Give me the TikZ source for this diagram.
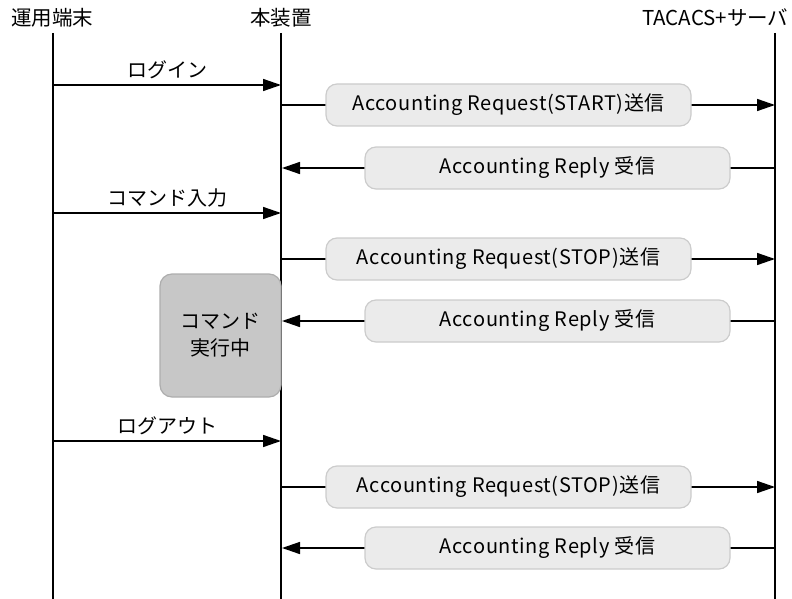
\documentclass[tikz,border=0pt]{standalone}
\usepackage{fontspec}
\setmainfont{Noto Sans CJK JP}
\usetikzlibrary{arrows.meta}
\tikzset{acctlife/.style={line width=1.5pt},
         acctmsg/.style={line width=1.5pt,-{Triangle[length=18pt,width=12pt]}},
         acctbox/.style={draw=black!20,fill=black!8,line width=1.2pt,rounded corners=11pt,
                         minimum width=365pt,minimum height=42pt,
                         font=\fontsize{20}{22}\selectfont\addfontfeature{LetterSpace=3}},
         acctcmd/.style={draw=black!32,fill=black!22,line width=1.2pt,rounded corners=12pt,
                         minimum width=121pt,minimum height=123pt,align=center,
                         font=\fontsize{20}{27}\selectfont},
         acctlab/.style={font=\fontsize{20}{22}\selectfont,above=2pt},
         accthd/.style={font=\fontsize{20.5}{24}\selectfont}}
\begin{document}
\begin{tikzpicture}[x=1pt,y=-1pt]
  \useasboundingbox (0,0) rectangle (792,599);
  % headers and lifelines
  \node[accthd,anchor=base] (hdTerm) at (52,26) {運用端末};
  \node[accthd,anchor=base] (hdDev) at (281,26) {本装置};
  \node[accthd,anchor=base east] (hdSrv) at (792,26) {TACACS+サーバ};
  \foreach \n/\x in {Term/53,Dev/281,Srv/775}
    {\coordinate (top\n) at (\x,33); \coordinate (bot\n) at (\x,599);
     \draw[acctlife] (top\n)--(bot\n);}
  % command box
  \node[acctcmd] (cmdRun) at (220.5,335.5) {コマンド\\実行中};
  % terminal to device
  \foreach \i/\y/\t in {1/85/ログイン,2/213/コマンド入力,3/441/ログアウト}
    {\coordinate (t\i) at (53,\y); \coordinate (d\i) at (281,\y);
     \draw[acctmsg] (t\i)--(d\i) node[acctlab,midway] {\t};}
  % requests
  \foreach \i/\y/\t in {1/105/START,2/259/STOP,3/487/STOP}
    {\coordinate (rqd\i) at (281,\y); \coordinate (rqs\i) at (775,\y);
     \draw[acctmsg] (rqd\i)--(rqs\i);
     \node[acctbox] (rq\i) at (508.5,\y) {Accounting Request(\t)送信};}
  % replies
  \foreach \i/\y in {1/168,2/321,3/548}
    {\coordinate (rps\i) at (775,\y); \coordinate (rpd\i) at (282,\y);
     \draw[acctmsg] (rps\i)--(rpd\i);
     \node[acctbox] (rp\i) at (547.5,\y) {Accounting Reply 受信};}
\end{tikzpicture}
\end{document}
